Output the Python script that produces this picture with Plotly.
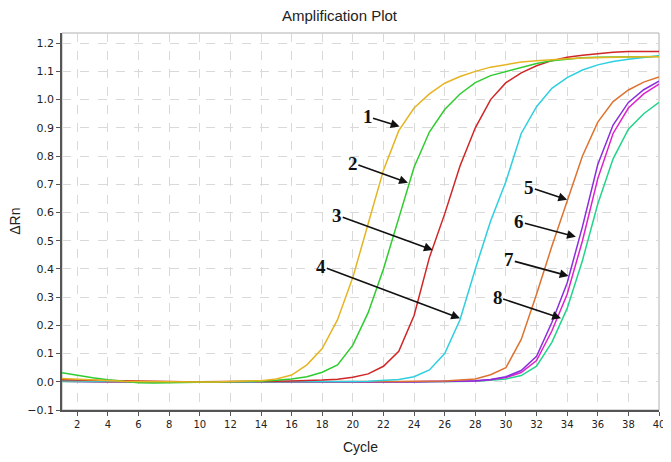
import plotly.graph_objects as go

cycles = list(range(1, 41))

curve_1 = [0.012, 0.009, 0.006, 0.004, 0.002, 0.001, 0.000, 0.000, -0.001, -0.001,
           -0.001, 0.000, 0.002, 0.004, 0.010, 0.024, 0.060, 0.118, 0.220, 0.370,
           0.560, 0.750, 0.890, 0.970, 1.020, 1.058, 1.082, 1.100, 1.115, 1.125,
           1.133, 1.138, 1.142, 1.145, 1.147, 1.149, 1.150, 1.151, 1.152, 1.152]
curve_2 = [0.032, 0.022, 0.014, 0.007, 0.002, -0.003, -0.004, -0.003, -0.002, -0.002,
           -0.001, -0.001, 0.000, 0.002, 0.005, 0.010, 0.018, 0.034, 0.060, 0.130,
           0.245, 0.400, 0.580, 0.760, 0.885, 0.965, 1.020, 1.060, 1.085, 1.100,
           1.115, 1.128, 1.138, 1.144, 1.148, 1.150, 1.151, 1.152, 1.153, 1.153]
curve_3 = [0.007, 0.006, 0.004, 0.003, 0.002, 0.001, 0.000, 0.000, 0.000, 0.000,
           0.000, 0.000, 0.000, 0.001, 0.002, 0.003, 0.004, 0.006, 0.009, 0.016,
           0.028, 0.055, 0.108, 0.235, 0.440, 0.595, 0.765, 0.900, 1.000, 1.060,
           1.095, 1.120, 1.138, 1.150, 1.157, 1.163, 1.168, 1.170, 1.170, 1.170]
curve_4 = [0.004, 0.003, 0.002, 0.001, 0.000, -0.001, -0.001, -0.001, -0.001, -0.001,
           -0.001, -0.001, 0.000, 0.000, 0.000, 0.000, 0.000, 0.000, 0.001, 0.001,
           0.002, 0.004, 0.008, 0.018, 0.042, 0.100, 0.220, 0.400, 0.570, 0.710,
           0.880, 0.975, 1.040, 1.078, 1.105, 1.123, 1.135, 1.143, 1.150, 1.155]
curve_5 = [0.003, 0.002, 0.002, 0.001, 0.000, -0.001, -0.001, -0.001, -0.001, -0.001,
           -0.001, -0.001, -0.001, 0.000, 0.000, 0.000, 0.000, 0.000, 0.000, 0.000,
           0.000, 0.001, 0.001, 0.002, 0.002, 0.003, 0.006, 0.010, 0.025, 0.050,
           0.150, 0.310, 0.480, 0.640, 0.800, 0.920, 0.993, 1.034, 1.062, 1.080]
curve_6 = [0.002, 0.002, 0.001, 0.001, 0.000, -0.001, -0.002, -0.002, -0.002, -0.002,
           -0.002, -0.002, -0.002, -0.002, -0.002, -0.002, -0.002, -0.002, -0.002, -0.001,
           -0.001, 0.000, 0.000, 0.000, 0.001, 0.001, 0.002, 0.004, 0.008, 0.018,
           0.040, 0.090, 0.210, 0.350, 0.550, 0.770, 0.910, 0.990, 1.035, 1.065]
curve_7 = [0.002, 0.001, 0.001, 0.000, 0.000, -0.001, -0.001, -0.002, -0.002, -0.002,
           -0.002, -0.002, -0.002, -0.002, -0.002, -0.002, -0.002, -0.002, -0.001, -0.001,
           -0.001, 0.000, 0.000, 0.000, 0.001, 0.001, 0.002, 0.003, 0.007, 0.015,
           0.033, 0.075, 0.180, 0.310, 0.500, 0.720, 0.880, 0.970, 1.020, 1.055]
curve_8 = [0.001, 0.001, 0.000, 0.000, -0.001, -0.002, -0.002, -0.003, -0.003, -0.003,
           -0.003, -0.003, -0.003, -0.003, -0.003, -0.003, -0.003, -0.003, -0.003, -0.002,
           -0.002, -0.002, -0.001, -0.001, 0.000, 0.000, 0.001, 0.002, 0.005, 0.010,
           0.022, 0.055, 0.140, 0.260, 0.430, 0.630, 0.790, 0.895, 0.950, 0.990]

series = [curve_1, curve_2, curve_3, curve_4, curve_5, curve_6, curve_7, curve_8]
colors = ['#E6B422', '#2ECC2E', '#D02626', '#2ECFDF', '#DE7330', '#8A2EDD', '#DD22CC', '#22D48A']

# label text, label position (cycle, dRn), arrow tip (cycle, dRn)
labels = ['1', '2', '3', '4', '5', '6', '7', '8']
label_pos = [(20.96, 0.94), (20.0, 0.775), (18.98, 0.59), (17.94, 0.41),
             (31.53, 0.69), (30.88, 0.567), (30.22, 0.432), (29.46, 0.30)]
tip_pos = [(23.05, 0.905), (23.6, 0.705), (25.22, 0.467), (27.0, 0.225),
           (34.0, 0.645), (34.57, 0.514), (34.09, 0.375), (33.6, 0.225)]

fig = go.Figure()

# later curves first so the early ones sit on top like the original
for vals, color in reversed(list(zip(series, colors))):
    fig.add_trace(go.Scatter(
        x=cycles, y=vals, mode='lines',
        line=dict(color=color, width=1.5),
        showlegend=False, hoverinfo='skip'
    ))

for txt, (lx, ly), (tx, ty) in zip(labels, label_pos, tip_pos):
    fig.add_annotation(
        x=tx, y=ty, ax=lx, ay=ly,
        xref='x', yref='y', axref='x', ayref='y',
        text='<b>' + txt + '</b>', showarrow=True,
        arrowhead=2, arrowsize=1.1, arrowwidth=1.6, arrowcolor='#111111',
        font=dict(family='Liberation Serif', size=19, color='#111111'),
        borderpad=0
    )

# axis titles as annotations so the margins stay fixed
fig.add_annotation(text='ΔRn', xref='paper', yref='paper', x=-0.080, y=0.5,
                   textangle=-90, showarrow=False, xanchor='center', yanchor='middle',
                   font=dict(family='Liberation Sans', size=14, color='#222222'))
fig.add_annotation(text='Cycle', xref='paper', yref='paper', x=0.5, y=-0.098,
                   showarrow=False, xanchor='center', yanchor='middle',
                   font=dict(family='Liberation Sans', size=14, color='#222222'))

fig.add_shape(type='rect', xref='paper', yref='paper', x0=0, y0=0, x1=1, y1=1,
              line=dict(color='#b0b0b0', width=1), layer='below')

# page body keeps its 8px default margin, so the figure is sized to fill the rest
fig.update_layout(
    width=663, height=454,
    margin=dict(l=54, r=12, t=25, b=52, autoexpand=False),
    paper_bgcolor='white', plot_bgcolor='white',
    title=dict(text='Amplification Plot', x=0.5, xanchor='center', y=0.982, yanchor='middle',
               font=dict(family='Liberation Sans', size=15, color='#222222')),
    font=dict(family='DejaVu Sans', color='#222222'),
    xaxis=dict(
        range=[1, 40], tickvals=list(range(2, 41, 2)), automargin=False,
        tickfont=dict(size=10), ticks='outside', ticklen=4, tickcolor='#555555',
        showline=True, linecolor='#555555', linewidth=1.5,
        showgrid=True, gridcolor='#d9d9d9', griddash='dash', gridwidth=1,
        zeroline=False
    ),
    yaxis=dict(
        range=[-0.1, 1.236], tick0=-0.1, dtick=0.1, tickformat='.1f', automargin=False,
        tickfont=dict(size=11), ticks='outside', ticklen=4, tickcolor='#555555',
        showline=True, linecolor='#555555', linewidth=1.5,
        showgrid=True, gridcolor='#d9d9d9', griddash='dash', gridwidth=1,
        zeroline=False
    )
)

fig.write_html('out.html')
